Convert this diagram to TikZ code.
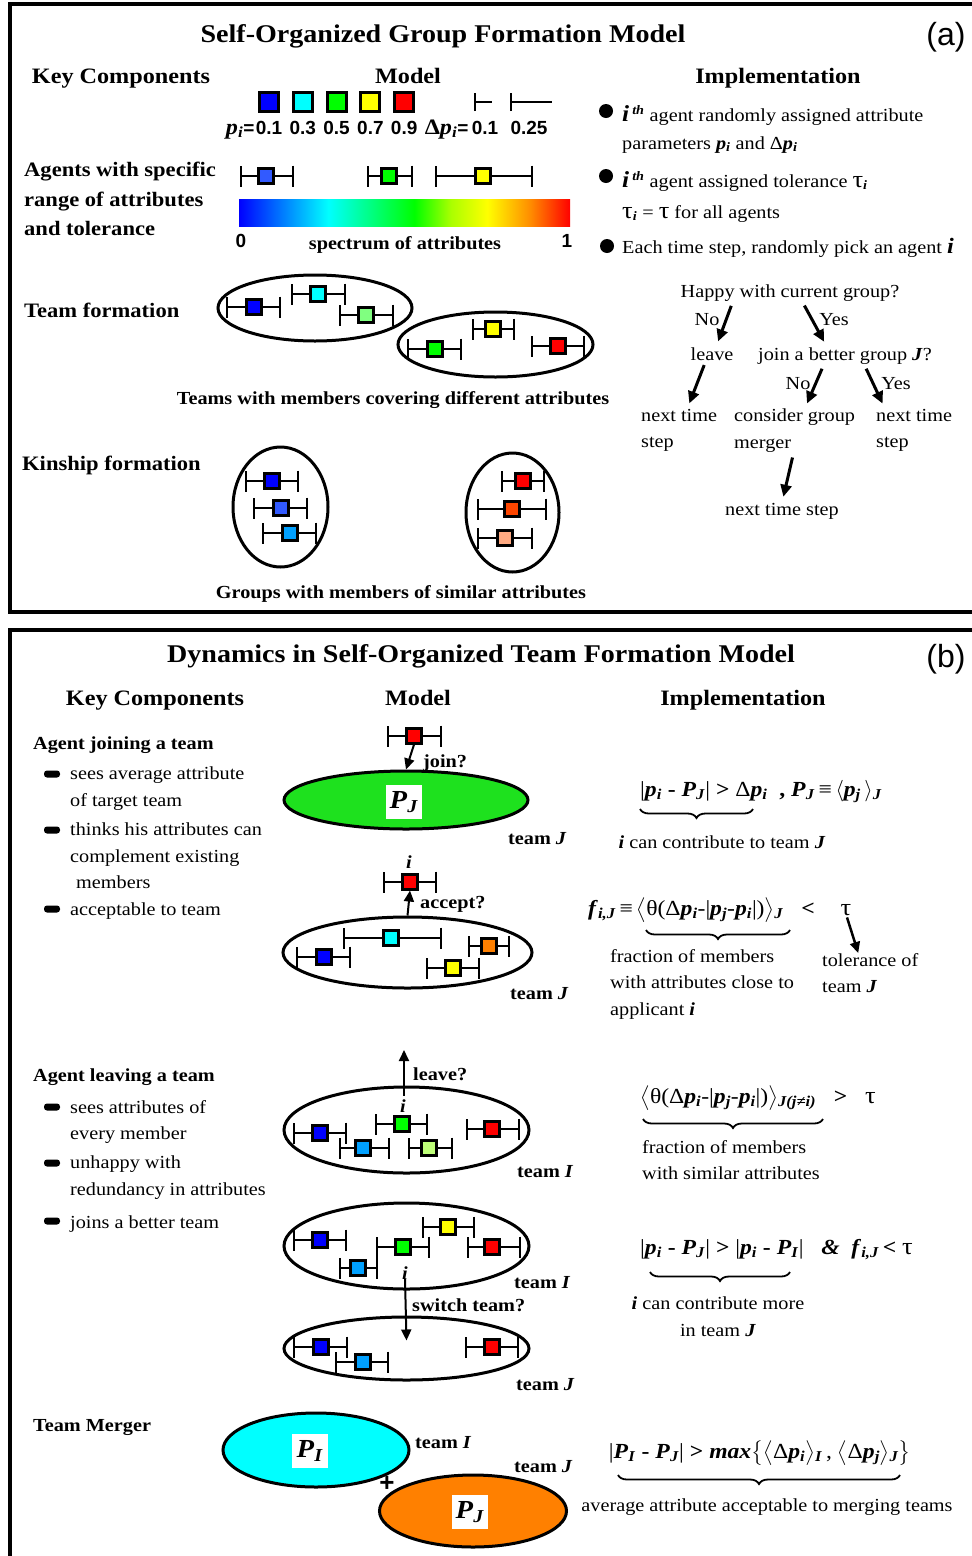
\RequirePackage{fix-cm}
\documentclass[tikz,border=0pt]{standalone}
\usepackage{exscale}
\usepackage{fontspec}
\setmainfont{Liberation Serif}[FakeStretch=1.1]
\setsansfont{Liberation Sans}
\usetikzlibrary{arrows.meta, shapes.geometric, decorations.pathreplacing, positioning}

\definecolor{agblue}{RGB}{0,0,255}
\definecolor{agcyan}{RGB}{0,255,255}
\definecolor{aggreen}{RGB}{0,255,0}
\definecolor{agyellow}{RGB}{255,255,0}
\definecolor{agred}{RGB}{255,0,0}
\definecolor{agroyal}{RGB}{50,90,255}
\definecolor{agsky}{RGB}{0,160,255}
\definecolor{agmint}{RGB}{128,255,128}
\definecolor{aglime}{RGB}{190,255,120}
\definecolor{agorange}{RGB}{255,128,0}
\definecolor{agflame}{RGB}{255,70,0}
\definecolor{agsalmon}{RGB}{255,170,130}
\definecolor{teamgreen}{RGB}{30,225,30}
\definecolor{speclime}{RGB}{170,255,0}
\definecolor{specorange}{RGB}{255,140,0}

% the middle half (25bp--75bp) of a shading is what fills the node
\pgfdeclarehorizontalshading{spectrum}{100bp}{color(0bp)=(agblue); color(25bp)=(agblue); color(38.5bp)=(agcyan); color(51.5bp)=(aggreen); color(57bp)=(speclime); color(62.5bp)=(agyellow); color(69bp)=(specorange); color(75bp)=(agred); color(100bp)=(agred)}

\newcommand{\bi}[1]{\textbf{\textit{#1}}}
\newcommand{\sbi}[1]{\textsubscript{\bi{#1}}}
\newcommand{\bigtau}{{\fontsize{24}{24}\selectfont τ}}
% agent: name, colour, x, y, left end, right end
\newcommand{\agent}[6]{%
  \draw[errbar] (#5,#4) -- (#6,#4);
  \node[member, fill=#2] (#1) at (#3,#4) {};}

\begin{document}
\begin{tikzpicture}[x=1pt, y=-1pt,
  title/.style={font=\fontsize{25.5}{30}\selectfont\bfseries, inner sep=0pt},
  head/.style={font=\fontsize{22}{26}\selectfont\bfseries, inner sep=0pt},
  rowlabel/.style={font=\fontsize{20.5}{29.5}\selectfont\bfseries, inner sep=0pt, align=left},
  sublabel/.style={font=\fontsize{18.4}{22}\selectfont\bfseries, inner sep=0pt},
  body/.style={font=\fontsize{18.4}{26.5}\selectfont, inner sep=0pt, align=left},
  eq/.style={font=\fontsize{21.5}{26}\selectfont, inner sep=0pt},
  num/.style={font=\fontsize{19}{22}\selectfont\sffamily\bfseries, inner sep=0pt},
  panel/.style={font=\fontsize{32}{36}\selectfont\sffamily, inner sep=0pt},
  border/.style={line width=4.5pt},
  swatch/.style={draw, line width=3pt, minimum size=19pt, inner sep=0pt},
  member/.style={draw, line width=2.6pt, minimum size=14.5pt, inner sep=0pt},
  errbar/.style={line width=2pt, {Bar[width=21pt]}-{Bar[width=21pt]}},
  halfbar/.style={line width=2pt, {Bar[width=18pt]}-},
  team/.style={ellipse, draw, line width=3pt, inner sep=0pt},
  avgbox/.style={fill=white, minimum width=36pt, minimum height=34pt, inner sep=0pt, font=\fontsize{26}{30}\selectfont},
  flow/.style={line width=3pt, -{Triangle[length=12pt, width=11pt]}, shorten <=5pt, shorten >=6pt},
  move/.style={line width=2pt, -{Triangle[length=11pt, width=10pt]}},
  blob/.style={circle, fill, minimum size=14pt, inner sep=0pt},
  dashmark/.style={rectangle, rounded corners=3pt, fill, minimum width=16pt, minimum height=7pt, inner sep=0pt},
  ubrace/.style={decorate, decoration={brace, mirror, amplitude=9pt}, line width=1.8pt}
]
\path[use as bounding box, clip] (0,0) rectangle (972,1556);

% Panel frames
\draw[border] (10,4) rectangle (990,612);
\draw[border] (10,630) rectangle (990,1580);

% ---------------- panel (a) ----------------
\node[title, anchor=base] (titleA) at (443,42) {Self-Organized Group Formation Model};
\node[panel, anchor=base] (tagA) at (946,45) {(a)};
\node[head, anchor=base] (keyA) at (121,83) {Key Components};
\node[head, anchor=base] (modelA) at (408,83) {Model};
\node[head, anchor=base] (implA) at (778,83) {Implementation};

% Attribute swatches and tolerance widths
\node[swatch, fill=agblue] (sw1) at (269,102) {};
\node[swatch, fill=agcyan, right=11.8pt of sw1] (sw3) {};
\node[swatch, fill=aggreen, right=11.8pt of sw3] (sw5) {};
\node[swatch, fill=agyellow, right=11.8pt of sw5] (sw7) {};
\node[swatch, fill=agred, right=11.8pt of sw7] (sw9) {};
\node[num, below=8pt of sw1] (v1) {0.1};
\node[num, below=8pt of sw3] (v3) {0.3};
\node[num, below=8pt of sw5] (v5) {0.5};
\node[num, below=8pt of sw7] (v7) {0.7};
\node[num, below=8pt of sw9] (v9) {0.9};
\node[num, anchor=base east] (pLbl) at ([xshift=-1pt]v1.base west) {{\rmfamily\fontsize{22}{22}\selectfont\bi{p}\sbi{i}}=};
\draw[halfbar] (474,102) -- (492,102);
\draw[halfbar] (510,102) -- (552,102);
\node[num, anchor=base] (d1) at (485,134) {0.1};
\node[num, anchor=base] (d2) at (529,134) {0.25};
\node[num, anchor=base east] (dpLbl) at ([xshift=-3pt]d1.base west) {{\rmfamily\fontsize{22}{22}\selectfont Δ\bi{p}\sbi{i}}=};

% Agents with ranges
\node[rowlabel, anchor=north west] (agentsLbl) at (24,162) {Agents with specific\\range of attributes\\and tolerance};
\agent{r1}{agroyal}{266}{176}{240}{294}
\agent{r2}{aggreen}{389}{176}{367}{413}
\agent{r3}{agyellow}{483}{176}{435}{533}
\node[shade, shading=spectrum, minimum width=331pt, minimum height=27pt, inner sep=0pt] (spec) at (404.5,212.5) {};
\node[num, anchor=base] (zero) at (241,247) {0};
\node[num, anchor=base] (one) at (567,247) {1};
\node[sublabel, anchor=base] (specLbl) at (405,249) {spectrum of attributes};

% Implementation notes
\node[blob] (b1) at (606,111) {};
\node[body, anchor=base west] (imp1) at (622,121) {{\fontsize{23}{23}\selectfont\bi{i}}\,\textsuperscript{\bi{th}} agent randomly assigned attribute};
\node[body, anchor=base west] (imp1b) at (622,149) {parameters \bi{p}\sbi{i} and Δ\bi{p}\sbi{i}};
\node[blob] (b2) at (606,176) {};
\node[body, anchor=base west] (imp2) at (622,187) {{\fontsize{23}{23}\selectfont\bi{i}}\,\textsuperscript{\bi{th}} agent assigned tolerance \bigtau\sbi{i}};
\node[body, anchor=base west] (imp2b) at (622,218) {\bigtau\sbi{i} = \bigtau{} for all agents};
\node[blob] (b3) at (607,246) {};
\node[body, anchor=base west] (imp3) at (622,253) {Each time step, randomly pick an agent {\fontsize{22}{22}\selectfont\bi{i}}};

% Decision tree
\node[body, anchor=base] (happy) at (790,297) {Happy with current group?};
\node[body, anchor=base] (no1) at (707,325) {No};
\node[body, anchor=base] (yes1) at (834,325) {Yes};
\node[body, anchor=base] (leave) at (712,360) {leave};
\node[body, anchor=base west] (better) at (758,360) {join a better group \bi{J}?};
\node[body, anchor=base] (no2) at (798,389) {No};
\node[body, anchor=base] (yes2) at (896,389) {Yes};
\node[body, anchor=north west] (nts1) at (641,409) {next time\\step};
\node[body, anchor=north west] (merger) at (734,409) {consider group\\merger};
\node[body, anchor=north west] (nts2) at (876,409) {next time\\step};
\node[body, anchor=base] (nts3) at (782,515) {next time step};
\draw[flow] ([xshift=-57pt]happy.south) -- ([xshift=4pt]leave.north);
\draw[flow] ([xshift=12pt]happy.south) -- ([xshift=-18pt]better.north);
\draw[flow] ([xshift=-6pt]leave.south) -- ([xshift=8pt]nts1.north);
\draw[flow] ([xshift=-21pt]better.south) -- ([xshift=10pt]merger.north);
\draw[flow] ([xshift=19pt]better.south) -- ([xshift=-29pt]nts2.north);
\draw[flow] ([xshift=-1pt]merger.south) -- (nts3.north);

% Team formation
\node[rowlabel, anchor=base west] (teamLbl) at (24,317) {Team formation};
\node[team, minimum width=194pt, minimum height=66pt] (teamA) at (315,308) {};
\node[team, minimum width=195pt, minimum height=65pt] (teamB) at (495.5,344.5) {};
\agent{fa1}{agblue}{254}{307}{226}{281}
\agent{fa2}{agcyan}{318}{294}{291}{346}
\agent{fa3}{agmint}{366}{315}{339}{394}
\agent{fb1}{aggreen}{435}{349}{407}{462}
\agent{fb2}{agyellow}{493}{329}{472}{515}
\agent{fb3}{agred}{558}{346}{531}{585}
\node[sublabel, anchor=base] (teamCap) at (393,404) {Teams with members covering different attributes};

% Kinship formation
\node[rowlabel, anchor=base west] (kinLbl) at (22,470) {Kinship formation};
\node[team, minimum width=95pt, minimum height=120pt] (kinA) at (280.5,507) {};
\node[team, minimum width=93pt, minimum height=119pt] (kinB) at (512.5,512.5) {};
\agent{ka1}{agblue}{272}{481}{245}{299}
\agent{ka2}{agroyal}{281}{508}{253}{308}
\agent{ka3}{agsky}{290}{533}{262}{317}
\agent{kb1}{agred}{523}{481}{501}{545}
\agent{kb2}{agflame}{512}{509}{477}{547}
\agent{kb3}{agsalmon}{505}{538}{477}{533}
\node[sublabel, anchor=base] (kinCap) at (401,598) {Groups with members of similar attributes};

% ---------------- panel (b) ----------------
\node[title, anchor=base] (titleB) at (481,662) {Dynamics in Self-Organized Team Formation Model};
\node[panel, anchor=base] (tagB) at (946,667) {(b)};
\node[head, anchor=base] (keyB) at (155,705) {Key Components};
\node[head, anchor=base] (modelB) at (418,705) {Model};
\node[head, anchor=base] (implB) at (743,705) {Implementation};

% Agent joining a team
\node[sublabel, anchor=base west] (joinLbl) at (33,749) {Agent joining a team};
\node[dashmark] (m1) at (52,774) {};
\node[body, anchor=north west] (join1) at (70,767) {sees average attribute\\of target team};
\node[dashmark] (m2) at (52,830) {};
\node[body, anchor=north west] (join2) at (70,823) {thinks his attributes can\\complement existing\\\hspace{6pt}members};
\node[dashmark] (m3) at (52,909) {};
\node[body, anchor=base west] (join3) at (70,915) {acceptable to team};

\node[team, fill=teamgreen, minimum width=244pt, minimum height=58pt] (tgJ) at (406,800) {};
\node[avgbox] (avgJ) at (404,802) {\bi{P}\sbi{J}};
\agent{iJ}{agred}{414}{736}{387}{442}
\draw[move] (iJ.south) -- (tgJ.north);
\node[sublabel, anchor=base west] (joinQ) at (423,767) {join?};
\node[sublabel, anchor=base west] (tJ1) at (508,844) {team \textit{J}};

\node[team, minimum width=249pt, minimum height=71pt] (tmJ) at (407.5,952.5) {};
\agent{iA}{agred}{410}{882}{383}{437}
\node[sublabel, anchor=base] (iLblA) at (409,868) {\textit{i}};
\draw[move] (tmJ.north) -- (iA.south);
\node[sublabel, anchor=base west] (acceptQ) at (420,908) {accept?};
\agent{ma1}{agblue}{324}{957}{296}{351}
\agent{ma2}{agcyan}{391}{938}{343}{442}
\agent{ma3}{agorange}{489}{946}{468}{510}
\agent{ma4}{agyellow}{453}{968}{426}{480}
\node[sublabel, anchor=base west] (tJ2) at (510,999) {team \textit{J}};

\node[eq, anchor=base west] (eqJoin) at (640,796) {|\bi{p}\sbi{i} \textbf{-} \bi{P}\sbi{J}| \textbf{>} Δ\bi{p}\sbi{i} \ \textbf{,} \bi{P}\sbi{J}\,≡\,$\langle$\bi{p}\sbi{j}\,$\rangle$\sbi{J}};
\draw[ubrace] (640,809) -- (753,809);
\node[body, anchor=base] (contribJ) at (722,848) {\bi{i} can contribute to team \bi{J}};

\node[eq, anchor=base west] (eqAccept) at (588,915) {\bi{f}\sbi{i,J}\,≡\,$\bigl\langle$θ(Δ\bi{p}\sbi{i}-|\bi{p}\sbi{j}-\bi{p}\sbi{i}|)$\bigr\rangle$\sbi{J} \ \ \textbf{<}};
\node[eq, anchor=base] (tauA) at (846,915) {\bigtau};
\draw[ubrace] (646,930) -- (790,930);
\node[body, anchor=north west] (fracA) at (610,949) {fraction of members\\with attributes close to\\applicant \bi{i}};
\node[body, anchor=north west] (tolA) at (822,953) {tolerance of\\team \bi{J}};
\draw[move, line width=2.5pt] ([xshift=1pt, yshift=-2pt]tauA.south) -- ([xshift=-12pt]tolA.north);

% Agent leaving a team
\node[sublabel, anchor=base west] (leaveLbl) at (33,1081) {Agent leaving a team};
\node[dashmark] (m4) at (52,1107) {};
\node[body, anchor=north west] (leave1) at (70,1100) {sees attributes of\\every member};
\node[dashmark] (m5) at (52,1163) {};
\node[body, anchor=north west] (leave2) at (70,1156) {unhappy with\\redundancy in attributes};
\node[dashmark] (m6) at (52,1221) {};
\node[body, anchor=base west] (leave3) at (70,1228) {joins a better team};

\node[team, minimum width=245pt, minimum height=86pt] (tmI1) at (406.5,1130) {};
\coordinate (leaveTop) at (404,1050);
\draw[move] ([xshift=-2.5pt, yshift=-10pt]tmI1.north) -- (leaveTop);
\node[sublabel, anchor=base west] (leaveQ) at (413,1080) {leave?};
\node[sublabel, anchor=base] (iLblL) at (403,1112) {\textit{i}};
\agent{mb1}{aggreen}{402}{1124}{375}{428}
\agent{mb2}{agblue}{320}{1133}{293}{347}
\agent{mb3}{agsky}{363}{1148}{339}{390}
\agent{mb4}{aglime}{429}{1148}{408}{453}
\agent{mb5}{agred}{492}{1129}{466}{520}
\node[sublabel, anchor=base west] (tI1) at (517,1177) {team \textit{I}};

\node[team, minimum width=245pt, minimum height=86pt] (tmI2) at (406.5,1246) {};
\agent{mc1}{agblue}{320}{1240}{293}{347}
\agent{mc2}{agyellow}{448}{1227}{422}{475}
\agent{mc3}{aggreen}{403}{1247}{376}{430}
\agent{mc4}{agred}{492}{1247}{467}{521}
\agent{mc5}{agsky}{358}{1268}{339}{378}
\node[sublabel, anchor=base] (iLblS) at (405,1279) {\textit{i}};
\node[sublabel, anchor=base west] (tI2) at (514,1288) {team \textit{I}};
\node[team, minimum width=245pt, minimum height=63pt] (tmJ3) at (406.5,1348.5) {};
\draw[move] (iLblS.south) -- ([yshift=-25pt]tmJ3.north);
\node[sublabel, anchor=base west] (switchQ) at (412,1311) {switch team?};
\agent{md1}{agblue}{321}{1347}{293}{348}
\agent{md2}{agsky}{363}{1362}{335}{389}
\agent{md3}{agred}{492}{1347}{465}{519}
\node[sublabel, anchor=base west] (tJ3) at (516,1390) {team \textit{J}};

\node[eq, anchor=base west] (eqLeave) at (640,1103) {$\bigl\langle$θ(Δ\bi{p}\sbi{i}-|\bi{p}\sbi{j}-\bi{p}\sbi{i}|)$\bigr\rangle$\sbi{J(j≠i)} \ \ \textbf{>} \ \ \bigtau};
\draw[ubrace] (643,1119) -- (823,1119);
\node[body, anchor=north west] (fracL) at (642,1140) {fraction of members\\with similar attributes};
\node[eq, anchor=base west] (eqSwitch) at (640,1254) {|\bi{p}\sbi{i} \textbf{-} \bi{P}\sbi{J}| \textbf{>} |\bi{p}\sbi{i} \textbf{-} \bi{P}\sbi{I}| \ \ \bi{\&} \ \bi{f}\sbi{i,J}\,\textbf{<} \bigtau};
\draw[ubrace] (650,1272) -- (790,1272);
\node[body, anchor=north, align=center] (contribMore) at (718,1297) {\bi{i} can contribute more\\in team \bi{J}};

% Team merger
\node[sublabel, anchor=base west] (mergeLbl) at (33,1431) {Team Merger};
\node[team, fill=agcyan, minimum width=186pt, minimum height=74pt] (tmMI) at (316,1450) {};
\node[avgbox] (avgI) at (310,1451) {\bi{P}\sbi{I}};
\node[sublabel, anchor=base west] (tI3) at (415,1448) {team \textit{I}};
\node[team, fill=agorange, minimum width=187pt, minimum height=72pt] (tmMJ) at (473,1511) {};
\node[avgbox] (avgJ2) at (470,1512) {\bi{P}\sbi{J}};
\node[sublabel, anchor=base west] (tJ4) at (514,1472) {team \textit{J}};
\node[font=\fontsize{26}{26}\selectfont\sffamily\bfseries, inner sep=0pt] (plus) at (387,1484) {+};
\node[eq, anchor=base] (eqMerge) at (760,1458) {|\bi{P}\sbi{I} \textbf{-} \bi{P}\sbi{J}| \textbf{>} \bi{max}$\bigl\{\bigl\langle$Δ\bi{p}\sbi{i}$\bigr\rangle$\sbi{I}\,, $\bigl\langle$Δ\bi{p}\sbi{j}$\bigr\rangle$\sbi{J}$\bigr\}$};
\draw[ubrace] (618,1475) -- (900,1475);
\node[body, anchor=base] (mergeCap) at (767,1511) {average attribute acceptable to merging teams};

\end{tikzpicture}
\end{document}
